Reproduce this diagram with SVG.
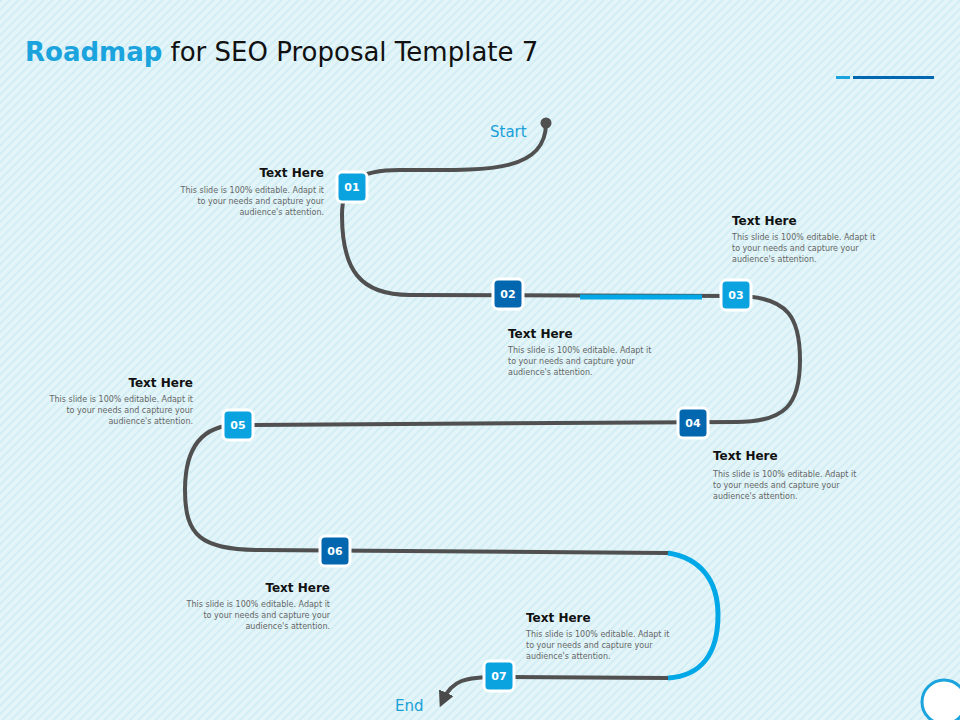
<svg xmlns="http://www.w3.org/2000/svg" width="960" height="720" viewBox="0 0 960 720">
<defs>
<pattern id="st" width="6" height="6" patternUnits="userSpaceOnUse" patternTransform="rotate(-45)">
<rect width="6" height="6" fill="#e3f5f9"/><rect width="6" height="2" fill="#d2eef4"/>
</pattern>
<marker id="ah" viewBox="0 0 10 10" refX="5" refY="5" markerWidth="4" markerHeight="4" orient="auto"><path d="M0,0L10,5L0,10Z" fill="#4a4a4a"/></marker>
<style>
.road{fill:none;stroke:#505050;stroke-width:4;stroke-linecap:round}
.blue{fill:none;stroke:#00a8e8;stroke-width:5}
.nb{stroke:#fff;stroke-width:3}
.n1{fill:#0aa3e0}.n2{fill:#0367b0}
.num{font-family:"DejaVu Sans",sans-serif;font-weight:bold;font-size:11px;fill:#fff;text-anchor:middle}
.h{font-family:"DejaVu Sans",sans-serif;font-weight:bold;font-size:12px;fill:#111}
.b{font-family:"DejaVu Sans",sans-serif;font-size:8px;fill:#666}
.lbl{font-family:"DejaVu Sans",sans-serif;font-size:15px;fill:#1aa0d8}
</style>
</defs>
<rect width="960" height="720" fill="url(#st)"/>
<text x="25" y="61" font-family="DejaVu Sans,sans-serif" font-size="26" fill="#111"><tspan fill="#1aa3dd" font-weight="bold">Roadmap</tspan> for SEO Proposal Template 7</text>
<rect x="836" y="76" width="14" height="3" fill="#1aa3dd"/><rect x="853" y="76" width="81" height="3" fill="#0367b0"/>
<circle cx="944" cy="702" r="22" fill="#fff" stroke="#1aa3dd" stroke-width="3"/>
<g id="connectors">
<circle cx="546" cy="123" r="5.5" fill="#505050"/>
<path class="road" d="M546,123 C546,175 480,170 400,170 C360,170 342,180 342,215 C342,270 360,295 410,295 L736,296 C790,296 800,320 800,360 C800,405 785,422 736,422 L238,425 C200,425 185,450 185,490 C185,535 200,550 260,550 L668,553"/>
<path class="road" d="M668,678 L499,677 C465,677 452,680 443,700" marker-end="url(#ah)"/>
<line class="blue" x1="580" y1="297" x2="702" y2="297"/>
<path class="blue" d="M668,553 C700,558 718,580 718,615 C718,655 700,676 668,678"/>
</g>
<g id="n01"><rect class="nb n1" x="337" y="172" width="30" height="30" rx="5"/><text class="num" x="352" y="191">01</text></g>
<g id="n02"><rect class="nb n2" x="493" y="279" width="30" height="30" rx="5"/><text class="num" x="508" y="298">02</text></g>
<g id="n03"><rect class="nb n1" x="721" y="280" width="30" height="30" rx="5"/><text class="num" x="736" y="299">03</text></g>
<g id="n04"><rect class="nb n2" x="678" y="408" width="30" height="30" rx="5"/><text class="num" x="693" y="427">04</text></g>
<g id="n05"><rect class="nb n1" x="223" y="410" width="30" height="30" rx="5"/><text class="num" x="238" y="429">05</text></g>
<g id="n06"><rect class="nb n2" x="320" y="536" width="30" height="30" rx="5"/><text class="num" x="335" y="555">06</text></g>
<g id="n07"><rect class="nb n1" x="484" y="661" width="30" height="30" rx="5"/><text class="num" x="499" y="680">07</text></g>
<text class="lbl" x="490" y="137">Start</text>
<text class="lbl" x="395" y="711">End</text>
<g id="t1" text-anchor="end"><text class="h" x="324" y="177">Text Here</text><text class="b" x="324" y="193">This slide is 100% editable. Adapt it</text><text class="b" x="324" y="204">to your needs and capture your</text><text class="b" x="324" y="215">audience's attention.</text></g>
<g id="t3"><text class="h" x="732" y="225">Text Here</text><text class="b" x="732" y="240">This slide is 100% editable. Adapt it</text><text class="b" x="732" y="251">to your needs and capture your</text><text class="b" x="732" y="262">audience's attention.</text></g>
<g id="t2"><text class="h" x="508" y="338">Text Here</text><text class="b" x="508" y="353">This slide is 100% editable. Adapt it</text><text class="b" x="508" y="364">to your needs and capture your</text><text class="b" x="508" y="375">audience's attention.</text></g>
<g id="t5" text-anchor="end"><text class="h" x="193" y="387">Text Here</text><text class="b" x="193" y="402">This slide is 100% editable. Adapt it</text><text class="b" x="193" y="413">to your needs and capture your</text><text class="b" x="193" y="424">audience's attention.</text></g>
<g id="t4"><text class="h" x="713" y="460">Text Here</text><text class="b" x="713" y="477">This slide is 100% editable. Adapt it</text><text class="b" x="713" y="488">to your needs and capture your</text><text class="b" x="713" y="499">audience's attention.</text></g>
<g id="t6" text-anchor="end"><text class="h" x="330" y="592">Text Here</text><text class="b" x="330" y="607">This slide is 100% editable. Adapt it</text><text class="b" x="330" y="618">to your needs and capture your</text><text class="b" x="330" y="629">audience's attention.</text></g>
<g id="t7"><text class="h" x="526" y="622">Text Here</text><text class="b" x="526" y="637">This slide is 100% editable. Adapt it</text><text class="b" x="526" y="648">to your needs and capture your</text><text class="b" x="526" y="659">audience's attention.</text></g>
</svg>
